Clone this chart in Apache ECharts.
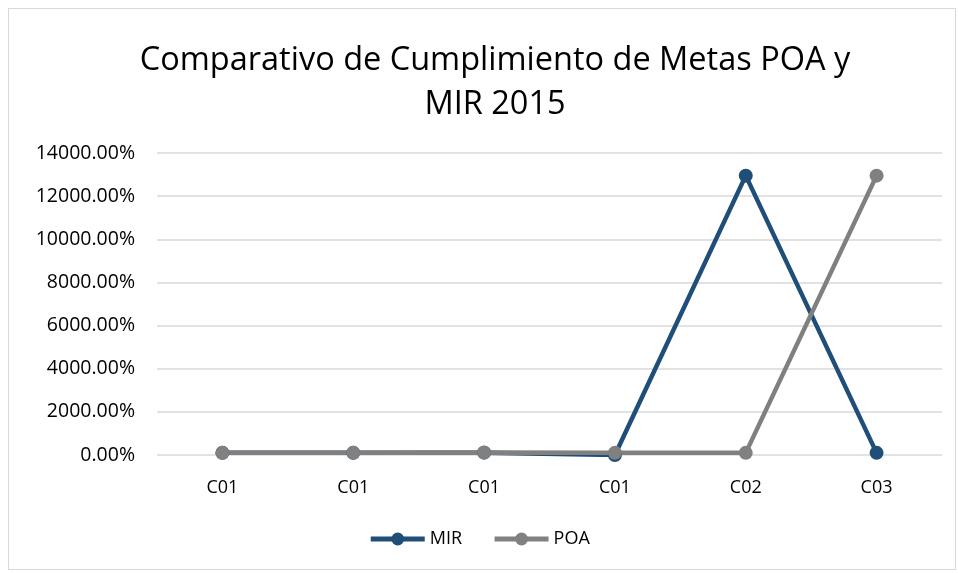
<!DOCTYPE html>
<html>
<head>
<meta charset="utf-8">
<script src="https://cdn.jsdelivr.net/npm/echarts@6/dist/echarts.min.js"></script>
<style>
  html, body { margin: 0; padding: 0; background: #fff; }
  #frame { position: absolute; left: 8px; top: 8px; width: 948px; height: 562px; border: 1px solid #d9d9d9; box-sizing: border-box; }
  #chart { position: absolute; left: 0; top: 0; width: 958px; height: 573px; }
</style>
</head>
<body>
<div id="frame"></div>
<div id="chart"></div>
<script>
// categories and values (percent)
var categories = ['C01', 'C01', 'C01', 'C01', 'C02', 'C03'];
var mirValues = [100, 100, 110, 0, 12950, 100];
var poaValues = [100, 100, 120, 100, 100, 12950];

var chart = echarts.init(document.getElementById('chart'));
var fontName = '"Open Sans", "Liberation Sans", sans-serif';

var option = {
  animation: false,
  title: {
    text: 'Comparativo de Cumplimiento de Metas POA y\nMIR 2015',
    left: 490,
    textAlign: 'center',
    top: 34,
    textStyle: { fontFamily: fontName, fontSize: 32.5, fontWeight: 'normal', color: '#000', lineHeight: 44 }
  },
  legend: {
    bottom: 20,
    left: 'center',
    itemWidth: 54,
    itemHeight: 16,
    itemGap: 30,
    lineStyle: { width: 5 },
    textStyle: { fontFamily: fontName, fontSize: 18, color: '#000' },
    data: ['MIR', 'POA']
  },
  grid: { left: 157, right: 16, top: 153, bottom: 118 },
  xAxis: {
    type: 'category',
    data: categories,
    axisLine: { show: false },
    axisTick: { show: false },
    axisLabel: { fontFamily: fontName, fontSize: 18, color: '#000', margin: 24 }
  },
  yAxis: {
    type: 'value',
    min: 0,
    max: 14000,
    interval: 2000,
    axisLine: { show: false },
    axisTick: { show: false },
    splitLine: { lineStyle: { color: '#d9d9d9', width: 1.5 } },
    axisLabel: {
      fontFamily: fontName, fontSize: 19.5, color: '#000', margin: 22,
      formatter: function (v) { return v.toFixed(2) + '%'; }
    }
  },
  series: [
    {
      name: 'MIR',
      type: 'line',
      data: mirValues,
      symbol: 'circle',
      symbolSize: 14,
      lineStyle: { width: 4.5, color: '#1f4e79' },
      itemStyle: { color: '#1f4e79' }
    },
    {
      name: 'POA',
      type: 'line',
      data: poaValues,
      symbol: 'circle',
      symbolSize: 14,
      lineStyle: { width: 4.5, color: '#808080' },
      itemStyle: { color: '#808080' }
    }
  ]
};
chart.setOption(option);
</script>
</body>
</html>
